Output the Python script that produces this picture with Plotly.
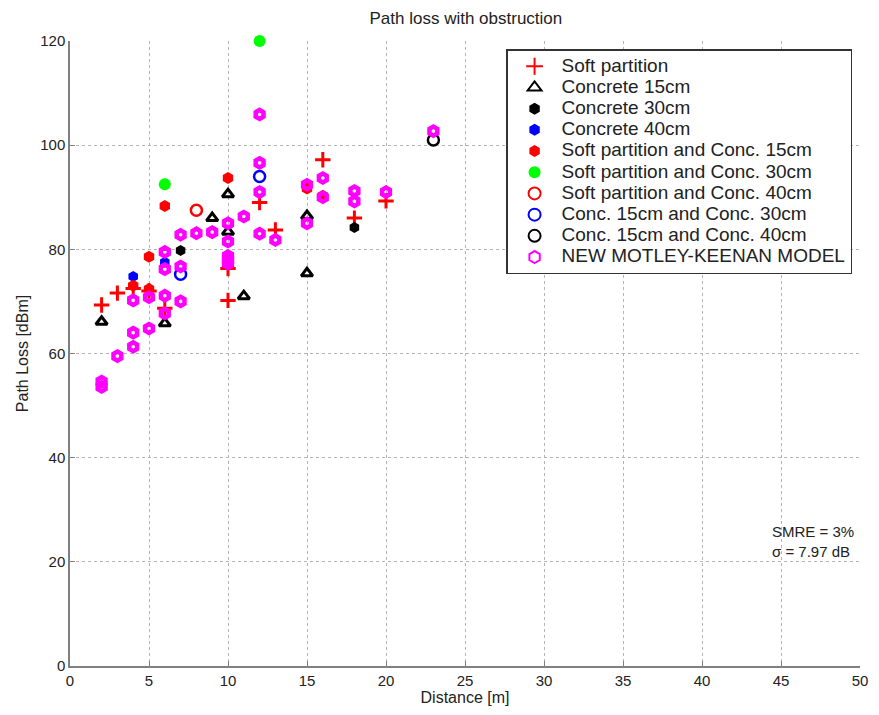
import plotly.graph_objects as go

# Soft partition
sp_x = [2, 3, 4, 5, 6, 10, 10, 12, 13, 16, 18, 20]
sp_y = [69.3, 71.6, 72.5, 72.0, 68.7, 76.3, 70.2, 89.0, 83.7, 97.2, 86.0, 89.3]
# Concrete 15cm
c15_x = [2, 6, 9, 10, 10, 11, 15, 15]
c15_y = [66.1, 65.8, 86.0, 90.6, 83.4, 71.0, 86.4, 75.4]
# Concrete 30cm
c30_x = [7, 18]
c30_y = [79.8, 84.2]
# Concrete 40cm
c40_x = [4, 6]
c40_y = [74.8, 77.5]
# Soft partition and Conc. 15cm
spc15_x = [4, 5, 5, 6, 10, 15, 16]
spc15_y = [73.0, 78.6, 72.4, 88.3, 93.7, 91.7, 90.3]
# Soft partition and Conc. 30cm
spc30_x = [6, 12]
spc30_y = [92.5, 120.0]
# Soft partition and Conc. 40cm
spc40_x = [8]
spc40_y = [87.5]
# Conc. 15cm and Conc. 30cm
c15c30_x = [7, 12]
c15c30_y = [75.2, 94.0]
# Conc. 15cm and Conc. 40cm
c15c40_x = [23]
c15c40_y = [101.0]
# NEW MOTLEY-KEENAN MODEL
mk_x = [2, 2, 3, 4, 4, 4, 5, 5, 6, 6, 6, 6, 7, 7, 7, 8, 9, 10, 10, 10, 10, 10,
        11, 12, 12, 12, 12, 13, 15, 15, 16, 16, 18, 18, 20, 23]
mk_y = [54.6, 53.6, 59.5, 70.2, 64.0, 61.3, 70.8, 64.8, 79.5, 76.2, 71.1, 67.7,
        82.8, 76.7, 70.0, 83.1, 83.3, 85.0, 81.5, 78.7, 78.0, 77.3, 86.3, 105.9,
        96.6, 91.0, 83.0, 81.8, 92.4, 85.0, 93.7, 90.0, 91.2, 89.2, 91.0, 102.7]

x_ticks = list(range(0, 51, 5))
y_ticks = list(range(0, 121, 20))

fig = go.Figure()

def add(name, xs, ys, symbol, color, size=10, lw=0):
    marker = dict(symbol=symbol, size=size, color=color,
                  line=dict(width=lw, color=color))
    fig.add_trace(go.Scatter(
        x=xs, y=ys, mode="markers", cliponaxis=False, marker=marker,
        name='<span style="font-size:19px">' + name + '</span>'))

add("Soft partition", sp_x, sp_y, "cross-thin-open", "#ff0000", size=11, lw=3)
add("Concrete 15cm", c15_x, c15_y, "triangle-up-open", "#000000", size=10, lw=3)
add("Concrete 30cm", c30_x, c30_y, "hexagon", "#000000", size=11)
add("Concrete 40cm", c40_x, c40_y, "hexagon", "#0000ff", size=11)
add("Soft partition and Conc. 15cm", spc15_x, spc15_y, "hexagon", "#ff0000", size=12)
add("Soft partition and Conc. 30cm", spc30_x, spc30_y, "circle", "#00ff00", size=12)
add("Soft partition and Conc. 40cm", spc40_x, spc40_y, "circle-open", "#ff0000", size=11, lw=2.5)
add("Conc. 15cm and Conc. 30cm", c15c30_x, c15c30_y, "circle-open", "#0000ff", size=11, lw=2.5)
add("Conc. 15cm and Conc. 40cm", c15c40_x, c15c40_y, "circle-open", "#000000", size=11, lw=2.5)
add("NEW MOTLEY-KEENAN MODEL", mk_x, mk_y, "hexagon-open", "#ff00ff", size=9, lw=4.5)

axis_common = dict(
    showgrid=True, gridcolor="#b4b4b4", griddash="dot", gridwidth=1,
    zeroline=False, showline=True, linecolor="#808080", linewidth=1.5,
    ticks="inside", ticklen=5, tickcolor="#808080",
    tickfont=dict(size=15, color="#222"), mirror=False,
)

fig.update_layout(
    width=879, height=715,
    margin=dict(l=70, r=19, t=41, b=49),
    paper_bgcolor="white", plot_bgcolor="white",
    font=dict(family="Liberation Sans, Arial, sans-serif", color="#222"),
    title=dict(text="Path loss with obstruction", x=0.53, xanchor="center",
               y=0.983, yanchor="top", font=dict(size=17)),
    xaxis=dict(range=[0, 50], tickvals=x_ticks,
               title=dict(text="Distance [m]", font=dict(size=16), standoff=2), **axis_common),
    yaxis=dict(range=[0, 120], tickvals=y_ticks,
               title=dict(text="Path Loss [dBm]", font=dict(size=16), standoff=8), **axis_common),
    legend=dict(x=0.552, y=0.987, xanchor="left", yanchor="top",
                bgcolor="white", bordercolor="#333", borderwidth=1.5,
                itemwidth=44,
                font=dict(size=14, color="#222"), tracegroupgap=0, itemsizing="constant"),
    showlegend=True,
)

fig.add_annotation(x=0.886, y=0.232, xref="paper", yref="paper",
                   text="SMRE = 3%<br>σ = 7.97 dB", showarrow=False,
                   align="left", xanchor="left", yanchor="top",
                   font=dict(size=15, color="#222"))

fig.write_html("out.html")
